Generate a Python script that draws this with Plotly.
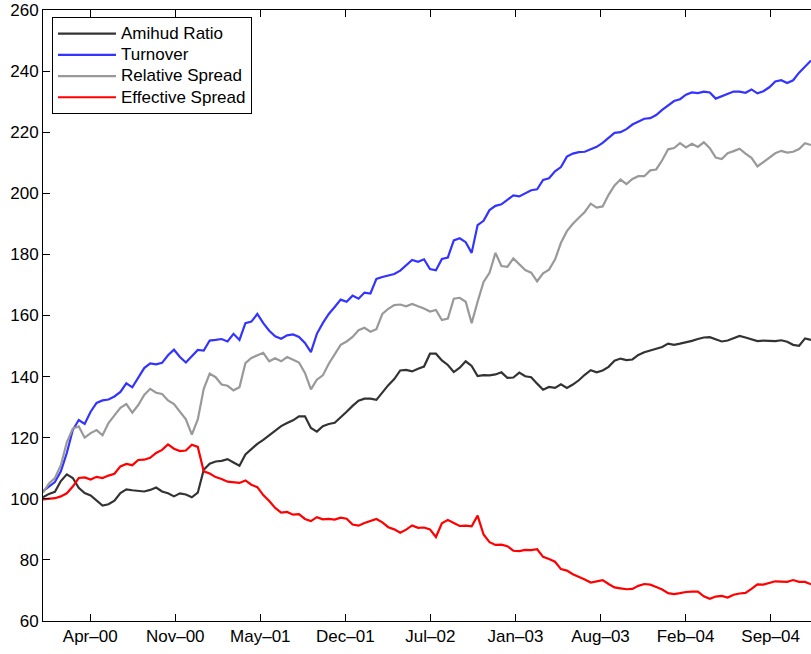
import pandas as pd
import plotly.graph_objects as go

# Sampling dates (every 14 days from start of sample)
dates = pd.date_range("2000-01-04", periods=130, freq="14D")

amihud = [
    100.5, 101.6, 102.3, 105.8, 108.0, 106.8, 103.6, 101.9, 101.1, 99.6,
    97.8, 98.2, 99.4, 101.9, 103.1, 102.8, 102.7, 102.4, 102.9, 103.7,
    102.4, 101.8, 100.8, 101.8, 101.4, 100.5, 102.0, 109.5, 111.5, 112.2,
    112.4, 113.0, 111.9, 110.8, 114.5, 116.3, 118.0, 119.3, 120.8, 122.4,
    123.8, 124.8, 125.7, 127.0, 127.0, 123.2, 122.0, 123.8, 124.5, 124.9,
    126.6, 128.5, 130.4, 132.1, 132.8, 132.8, 132.4, 134.9, 137.2, 139.2,
    142.0, 142.2, 141.7, 142.6, 143.3, 147.5, 147.5, 145.3, 143.8, 141.5,
    142.9, 145.0, 143.5, 140.2, 140.5, 140.4, 140.7, 141.4, 139.6, 139.7,
    141.3, 140.1, 139.8, 137.7, 135.7, 136.6, 136.3, 137.5, 136.3, 137.4,
    138.8, 140.6, 142.1, 141.4, 142.0, 143.2, 145.2, 145.9, 145.4, 145.6,
    147.1, 148.0, 148.5, 149.0, 149.7, 150.8, 150.4, 150.8, 151.2, 151.7,
    152.3, 152.8, 152.9, 152.2, 151.5, 151.8, 152.6, 153.3, 152.8, 152.2,
    151.6, 151.8, 151.8, 151.6, 151.9, 151.4, 150.4, 150.1, 152.5, 152.0,
]

turnover = [
    102.5, 104.0, 105.5, 109.0, 115.0, 122.5, 125.8, 124.5, 128.5, 131.4,
    132.2, 132.5, 133.5, 135.0, 137.8, 136.5, 139.5, 142.8, 144.3, 144.0,
    144.5, 147.0, 148.8, 146.4, 144.6, 146.5, 148.7, 148.5, 151.8, 152.0,
    152.3, 151.5, 154.0, 152.0, 157.5, 158.0, 160.5, 157.5, 155.0, 153.2,
    152.4, 153.5, 153.8, 153.0, 151.0, 148.0, 154.0, 157.5, 160.5, 162.8,
    165.2, 164.5, 166.5, 165.5, 167.5, 167.2, 172.0, 172.6, 173.2, 173.6,
    174.7, 176.4, 178.2, 177.6, 178.4, 175.2, 174.8, 178.5, 179.0, 184.6,
    185.3, 184.0, 180.5, 189.6, 191.0, 194.5, 195.9, 196.4, 198.0, 199.3,
    199.0, 200.0, 201.0, 201.3, 204.4, 204.9, 207.2, 208.6, 212.0, 213.0,
    213.5, 213.6, 214.3, 215.2, 216.5, 218.0, 219.8, 220.0, 221.0, 222.5,
    223.4, 224.4, 224.6, 225.6, 227.3, 228.8, 230.2, 230.8, 232.3, 233.0,
    232.8, 233.3, 233.0, 231.0, 231.8, 232.5, 233.3, 233.3, 232.9, 234.0,
    232.7, 233.4, 234.7, 236.6, 237.0, 236.1, 237.0, 239.5, 241.5, 243.5,
]

relative_spread = [
    102.0, 105.0, 106.8, 111.0, 118.5, 123.0, 123.7, 120.0, 121.5, 122.5,
    120.8, 124.8, 127.3, 129.8, 131.0, 128.2, 130.7, 134.0, 136.0, 134.7,
    134.3, 132.2, 131.0, 128.4, 126.0, 121.0, 126.0, 136.0, 141.0, 139.8,
    137.4, 137.0, 135.5, 136.5, 144.4, 146.1, 147.0, 147.8, 145.0, 146.0,
    145.0, 146.4, 145.5, 144.6, 141.2, 135.8, 139.0, 140.4, 144.2, 147.5,
    150.4, 151.5, 153.0, 155.2, 156.0, 154.7, 155.5, 160.5, 162.2, 163.4,
    163.6, 163.0, 163.8, 163.0, 162.3, 161.3, 161.8, 158.5, 159.0, 165.5,
    165.8, 164.5, 157.5, 164.5, 171.0, 174.0, 180.5, 176.2, 175.9, 178.7,
    176.7, 174.9, 174.0, 171.2, 173.8, 175.0, 178.3, 183.8, 187.6, 190.0,
    192.0, 193.9, 196.6, 195.3, 195.7, 199.5, 202.6, 204.5, 203.0, 204.7,
    205.6, 205.6, 207.5, 207.8, 210.8, 214.4, 214.8, 216.4, 215.0, 216.2,
    215.2, 216.7, 214.8, 211.7, 211.2, 213.1, 213.8, 214.6, 213.0, 211.6,
    208.8, 210.3, 211.7, 213.1, 213.9, 213.3, 213.6, 214.5, 216.4, 215.8,
]

effective_spread = [
    99.8, 100.1, 100.2, 100.8, 101.8, 104.0, 106.8, 107.0, 106.3, 107.2,
    106.8, 107.6, 108.2, 110.6, 111.4, 111.0, 112.7, 112.8, 113.4, 115.0,
    116.0, 117.8, 116.4, 115.6, 115.8, 117.7, 117.0, 109.0, 108.3, 107.1,
    106.5, 105.6, 105.5, 105.2, 106.0, 104.6, 103.8, 101.2, 99.3, 97.0,
    95.5, 95.7, 94.8, 95.0, 93.4, 92.7, 94.0, 93.3, 93.4, 93.2,
    93.8, 93.5, 91.6, 91.2, 92.1, 92.8, 93.4, 92.3, 90.7, 90.0,
    88.9, 89.9, 91.3, 90.5, 90.6, 90.0, 87.5, 92.0, 93.1, 92.1,
    91.1, 91.2, 91.0, 94.5, 88.3, 85.8, 84.9, 85.0, 84.5, 83.0,
    82.9, 83.3, 83.2, 83.5, 81.0, 80.3, 79.4, 77.0, 76.5, 75.3,
    74.5, 73.6, 72.6, 73.1, 73.4, 72.1, 71.0, 70.7, 70.4, 70.5,
    71.5, 72.1, 71.9, 71.1, 70.3, 69.1, 68.8, 69.1, 69.5, 69.6,
    69.6, 68.1, 67.3, 68.0, 68.2, 67.7, 68.6, 69.0, 69.2, 70.5,
    72.0, 71.9, 72.5, 73.0, 72.9, 72.8, 73.4, 72.8, 72.8, 72.0,
]

series_names = ["Amihud Ratio", "Turnover", "Relative Spread", "Effective Spread"]
series_values = [amihud, turnover, relative_spread, effective_spread]
series_colors = ["#333333", "#3333ff", "#999999", "#ff0000"]

tick_dates = ["2000-04-24", "2000-11-10", "2001-05-29", "2001-12-15", "2002-07-03",
              "2003-01-19", "2003-08-07", "2004-02-23", "2004-09-10"]
tick_labels = ["Apr\u201300", "Nov\u201300", "May\u201301", "Dec\u201301", "Jul\u201302",
               "Jan\u201303", "Aug\u201303", "Feb\u201304", "Sep\u201304"]
y_ticks = [60, 80, 100, 120, 140, 160, 180, 200, 220, 240, 260]

fig = go.Figure()
for name, vals, col in zip(series_names, series_values, series_colors):
    fig.add_trace(go.Scatter(
        x=dates, y=vals, mode="lines",
        name='<span style="font-size:17px">' + name + "</span>",
        line=dict(color=col, width=2.2)))

font = dict(family="Liberation Sans, Arial, Helvetica, sans-serif", size=17, color="black")
legend_font = dict(family="Liberation Sans, Arial, Helvetica, sans-serif", size=14, color="black")

fig.update_layout(
    width=811, height=654,
    margin=dict(l=43, r=0, t=10, b=33, autoexpand=False),
    paper_bgcolor="white", plot_bgcolor="white",
    font=font,
    showlegend=True,
    legend=dict(x=0.0117, y=0.9885, xanchor="left", yanchor="top",
                bgcolor="white", bordercolor="black", borderwidth=1,
                font=legend_font, tracegroupgap=0, itemwidth=58),
    xaxis=dict(type="date", range=["2000-01-04", "2004-12-14"],
               tickmode="array", tickvals=tick_dates, ticktext=tick_labels,
               ticks="inside", ticklen=7, tickcolor="black", tickwidth=1,
               showline=True, linecolor="black", linewidth=1, mirror="ticks",
               showgrid=False, zeroline=False, tickfont=font, automargin=False),
    yaxis=dict(range=[60, 260], tickmode="array", tickvals=y_ticks,
               ticks="inside", ticklen=7, tickcolor="black", tickwidth=1,
               showline=True, linecolor="black", linewidth=1, mirror=False,
               showgrid=False, zeroline=False, tickfont=font, automargin=False),
)

fig.write_html("out.html",
               config={"displayModeBar": False},
               post_script="document.body.style.margin='0';document.body.style.overflow='hidden';")
